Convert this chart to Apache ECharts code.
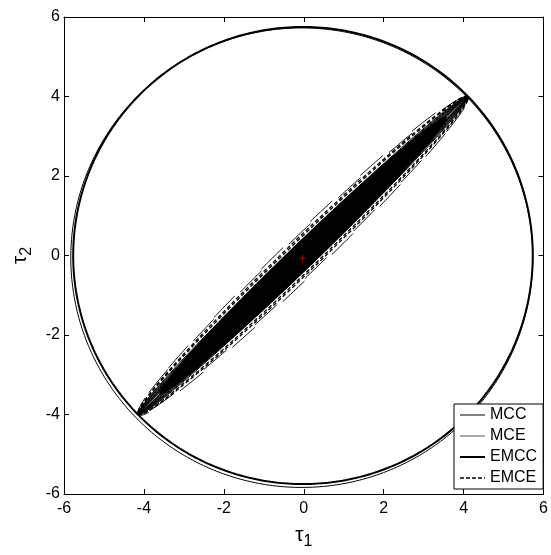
<!DOCTYPE html>
<html>
<head>
<meta charset="utf-8">
<script src="https://cdn.jsdelivr.net/npm/echarts@6/dist/echarts.min.js"></script>
<style>
  html, body { margin: 0; padding: 0; background: #fff; }
  #chart { width: 551px; height: 555px; }
</style>
</head>
<body>
<div id="chart"></div>
<script>
// Axis range (both axes)
const axisMin = -6;
const axisMax = 6;
const axisStep = 2;

// Circles: centre x, centre y, radius, owning series
const circleCx = [-0.02, -0.05];
const circleCy = [0.0, -0.055];
const circleR = [5.75, 5.78];
const circleSeries = ['EMCC', 'MCC'];

// Elongated ellipses share centre, semi-major axis and tilt
const lensCx = -0.02;
const lensCy = 0.0;
const lensMajor = 5.75;
const lensAngleDeg = 44.1;

// Solid core where the MCC ellipses pile up: semi-major, semi-minor
const coreMajor = 5.0;
const coreMinor = 0.32;

// Semi-minor axes of the individual MCC ellipses
const mccMinor = [0.03, 0.06, 0.09, 0.12, 0.15, 0.18, 0.21, 0.24, 0.27, 0.30];
// MCE ellipses: semi-minor axis and tilt
const mceMinor = [0.45, 0.49];
const mceAngleDeg = [44.0, 44.2];
// EMCE dashed ellipses: semi-minor axis
const emceMinor = [0.36, 0.40];

// Small marker at the estimated centre
const markX = [-0.03];
const markY = [-0.06];

const legendNames = ['MCC', 'MCE', 'EMCC', 'EMCE'];

function ellipse(cx, cy, a, b, deg) {
  const th = deg * Math.PI / 180;
  const c = Math.cos(th), s = Math.sin(th);
  const pts = [];
  const n = 400;
  for (let i = 0; i <= n; i++) {
    const t = 2 * Math.PI * i / n;
    const u = a * Math.cos(t), v = b * Math.sin(t);
    pts.push([cx + u * c - v * s, cy + u * s + v * c]);
  }
  return pts;
}

const styles = {
  MCC:  { color: '#000', width: 1, type: 'solid' },
  MCE:  { color: '#111', width: 1, type: [30, 38] },
  EMCC: { color: '#000', width: 2, type: 'solid' },
  EMCE: { color: '#000', width: 1.3, type: [4, 2.5] }
};

function lineSeries(name, data, z, dashOffset) {
  const st = styles[name];
  return {
    name: name,
    type: 'line',
    data: data,
    symbol: 'none',
    showSymbol: false,
    silent: true,
    z: z || 2,
    lineStyle: { color: st.color, width: st.width, type: st.type, dashOffset: dashOffset || 0 },
    itemStyle: { color: st.color }
  };
}

const series = [];
series.push(lineSeries('MCC', ellipse(circleCx[1], circleCy[1], circleR[1], circleR[1], 0)));
mceMinor.forEach((b, i) => series.push(lineSeries('MCE', ellipse(lensCx, lensCy, lensMajor, b, mceAngleDeg[i]), 2, i * 31)));
series.push(lineSeries('EMCC', ellipse(circleCx[0], circleCy[0], circleR[0], circleR[0], 0), 3));
emceMinor.forEach(b => series.push(lineSeries('EMCE', ellipse(lensCx, lensCy, lensMajor, b, lensAngleDeg))));
mccMinor.forEach(b => series.push(lineSeries('MCC', ellipse(lensCx, lensCy, lensMajor, b, lensAngleDeg))));

// filled core, drawn through the axis scales
series.push({
  type: 'custom',
  silent: true,
  z: 2,
  encode: { x: 0, y: 1 },
  data: [[lensCx, lensCy, coreMajor, coreMinor, lensAngleDeg]],
  renderItem: function (params, api) {
    const pts = ellipse(api.value(0), api.value(1), api.value(2), api.value(3), api.value(4))
      .map(p => api.coord(p));
    return { type: 'polygon', shape: { points: pts }, style: { fill: '#000' } };
  }
});

series.push({
  type: 'scatter',
  data: markX.map((x, i) => [x, markY[i]]),
  symbol: 'path://M4,0H6V4H10V6H6V10H4V6H0V4H4Z',
  symbolSize: 6,
  silent: true,
  z: 5,
  itemStyle: { color: '#d00000' }
});

const font = 'Liberation Sans, Arial, Helvetica, sans-serif';
const axisLine = { onZero: false, lineStyle: { color: '#000', width: 1 } };
const axisTick = { inside: true, length: 5, lineStyle: { color: '#000', width: 1 } };
const nameRich = {
  t: { fontSize: 21, fontFamily: font, color: '#000' },
  s: { fontSize: 16, fontFamily: font, color: '#000', padding: [14, 0, 0, 0] }
};

const option = {
  animation: false,
  backgroundColor: '#fff',
  grid: { left: 64, top: 17, right: 7, bottom: 58 },
  legend: {
    data: [
      { name: 'MCC', lineStyle: { type: 'solid', color: '#000', width: 1 } },
      { name: 'MCE', lineStyle: { type: 'solid', color: '#555', width: 1 } },
      { name: 'EMCC', lineStyle: { type: 'solid', color: '#000', width: 2 } },
      { name: 'EMCE', lineStyle: { type: [4, 2], color: '#000', width: 1.3 } }
    ],
    orient: 'vertical',
    left: 454,
    top: 404,
    padding: [3, 6, 3, 5],
    itemGap: 5,
    itemWidth: 25,
    itemHeight: 14,
    itemStyle: { color: 'rgba(0,0,0,0)', borderWidth: 0, opacity: 0 },
    backgroundColor: '#fff',
    borderColor: '#000',
    borderWidth: 1,
    borderRadius: 0,
    textStyle: { color: '#000', fontSize: 16, fontFamily: font },
    z: 10
  },
  xAxis: [
    {
      type: 'value', min: axisMin, max: axisMax, interval: axisStep, position: 'bottom',
      axisLine: axisLine, axisTick: axisTick, splitLine: { show: false },
      axisLabel: { color: '#000', fontSize: 16, fontFamily: font, margin: 7 },
      name: '{t|τ}{s|1}',
      nameLocation: 'middle',
      nameGap: 26,
      nameTextStyle: { color: '#000', fontFamily: font, rich: nameRich }
    },
    {
      type: 'value', min: axisMin, max: axisMax, interval: axisStep, position: 'top',
      axisLine: axisLine, axisTick: axisTick, splitLine: { show: false },
      axisLabel: { show: false }
    }
  ],
  yAxis: [
    {
      type: 'value', min: axisMin, max: axisMax, interval: axisStep, position: 'left',
      axisLine: axisLine, axisTick: axisTick, splitLine: { show: false },
      axisLabel: { color: '#000', fontSize: 16, fontFamily: font, margin: 4 },
      name: '{t|τ}{s|2}',
      nameLocation: 'middle',
      nameGap: 28,
      nameRotate: 90,
      nameTextStyle: { color: '#000', fontFamily: font, rich: nameRich }
    },
    {
      type: 'value', min: axisMin, max: axisMax, interval: axisStep, position: 'right',
      axisLine: axisLine, axisTick: axisTick, splitLine: { show: false },
      axisLabel: { show: false }
    }
  ],
  series: series
};

const chart = echarts.init(document.getElementById('chart'), null, { renderer: 'canvas' });
chart.setOption(option);
</script>
</body>
</html>
